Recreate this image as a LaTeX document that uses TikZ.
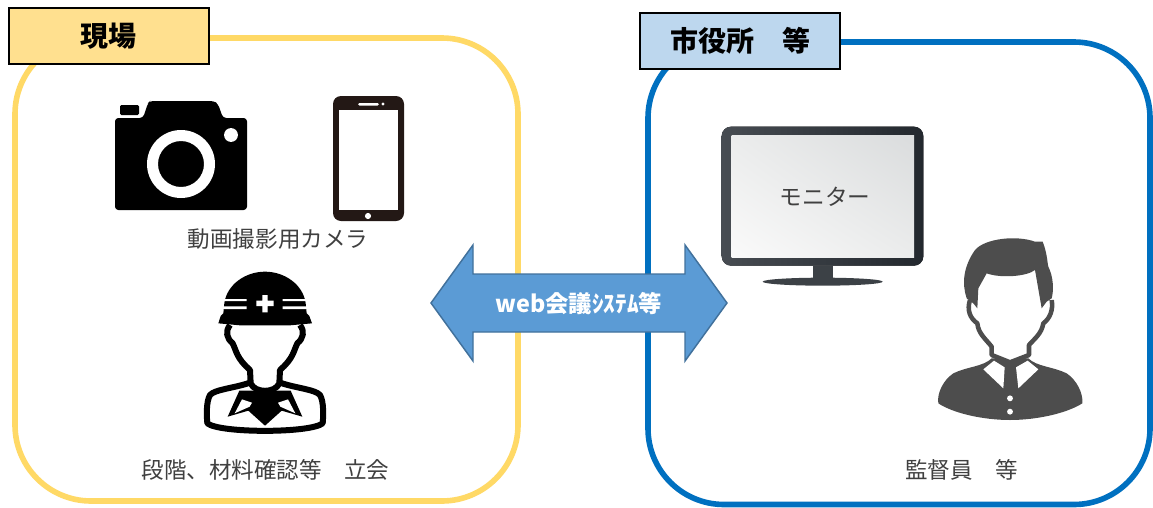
\documentclass[tikz,border=0pt]{standalone}
\usepackage{fontspec}
\usetikzlibrary{shadings}
\setmainfont{Noto Sans CJK JP}
\definecolor{yel}{HTML}{FFD966}
\definecolor{yelfill}{HTML}{FFE08F}
\definecolor{blu}{HTML}{0070C0}
\definecolor{blufill}{HTML}{BDD7EE}
\definecolor{arrfill}{HTML}{5B9BD5}
\definecolor{arrline}{HTML}{41719C}
\definecolor{txt}{HTML}{404040}
\definecolor{phone}{HTML}{231815}
\definecolor{person}{HTML}{4D4D4D}
\definecolor{mona}{HTML}{474C52}
\definecolor{monb}{HTML}{23282E}
\definecolor{scra}{HTML}{FAFAFA}
\definecolor{scrb}{HTML}{DADCDD}
\definecolor{scrc}{HTML}{EBECEC}
\tikzset{
  frame/.style={line width=4.2pt,rounded corners=57pt},
  tagbox/.style={draw=black,line width=1.5pt,inner sep=0pt,minimum width=150pt,minimum height=41.5pt,font=\fontsize{21}{24}\selectfont\bfseries,text=black},
  caption/.style={inner sep=0pt,text=txt,font=\fontsize{16.9}{20}\selectfont},
  zoomed/.style={x=0.25pt,y=-0.25pt},
}
\begin{document}
\begin{tikzpicture}[x=0.75pt,y=-0.75pt]
\useasboundingbox (0,0) rectangle (1153,507);
\fill[white] (0,0) rectangle (1153,507);
% frames
\draw[frame,draw=yel] (15,38) rectangle (518,501);
\draw[frame,draw=blu] (648,42) rectangle (1150,504.5);
% double arrow
\draw[fill=arrfill,draw=arrline,line width=1.1pt,line join=miter]
  (431,303) -- (473,245) -- (473,274) -- (685,274) -- (685,245) -- (727,303)
  -- (685,361) -- (685,332) -- (473,332) -- (473,361) -- cycle;
\node[inner sep=0pt,text=white,font=\fontsize{17.5}{20}\selectfont\bfseries] (sys) at (579,304) {web会議ｼｽﾃﾑ等};
% tags
\node[tagbox,fill=yelfill] (site) at (108.5,36) {現場};
\node[tagbox,fill=blufill] (office) at (740,41) {市役所　等};
% camera
\fill[black,rounded corners=2.5pt] (115,118) -- (143,118) -- (148,103) -- (150,101) -- (214,101) -- (218,104) -- (223,118) -- (247,118) -- (247,210) -- (115,210) -- cycle;
\fill[black,rounded corners=1pt] (120,105) rectangle (139,115);
\fill[white,even odd rule] (181,164) circle[radius=25.5pt] (181,164) circle[radius=17.25pt];
\fill[white] (231,135) circle[radius=5.2pt];
% phone
\fill[phone,rounded corners=6pt] (333,96) rectangle (404,221);
\fill[white] (339,110) rectangle (398,210);
\fill[white,rounded corners=1pt] (358,103) rectangle (379,105.5);
\fill[white] (383,104) circle[radius=1.2pt];
\fill[white] (368,216) circle[radius=2.3pt];
\node[caption] (camcap) at (278,239) {動画撮影用カメラ};
% worker
\begin{scope}[shift={(180,260)},zoomed]
  \draw[black,fill=white,line width=4.5pt,line join=round]
    (210,368) .. controls (160,385) and (105,388) .. (90,405)
    .. controls (78,425) and (80,470) .. (82,490)
    .. controls (120,520) and (390,520) .. (428,490)
    .. controls (430,470) and (432,425) .. (420,405)
    .. controls (405,388) and (350,385) .. (300,368) -- cycle;
  \fill[black] (178,392) -- (143,470) -- (205,452) -- (255,497) -- (305,452) -- (367,470) -- (332,392) -- cycle;
  \fill[white] (186,418) -- (164,460) -- (209,440) -- (216,428) -- cycle;
  \fill[white] (324,418) -- (346,460) -- (301,440) -- (294,428) -- cycle;
  \draw[black,fill=white,line width=4.5pt,line join=round]
    (150,195) .. controls (135,215) and (140,235) .. (158,250)
    .. controls (170,275) and (170,295) .. (210,330)
    -- (212,370) .. controls (225,400) and (285,400) .. (298,370) -- (300,330)
    .. controls (340,295) and (340,275) .. (352,250)
    .. controls (370,235) and (375,215) .. (360,195);
  \fill[black] (115,190) -- (122,168) -- (130,160) -- (133,130)
    .. controls (140,75) and (195,35) .. (255,35)
    .. controls (315,35) and (370,75) .. (377,130)
    -- (380,160) -- (388,168) -- (396,190) -- (330,196) -- (180,196) -- cycle;
  \fill[white] (127,117) rectangle (200,123) (127,139) rectangle (200,147)
               (308,117) rectangle (382,123) (308,139) rectangle (382,147);
  \fill[white] (247,105) rectangle (263,157) (229,122) rectangle (281,138);
\end{scope}
\node[caption] (sitecap) at (265.5,470) {段階、材料確認等　立会};
% monitor
\begin{scope}[shift={(710,115)},zoomed]
  \fill[left color=mona,right color=monb,rounded corners=7pt] (35,35) rectangle (640,452);
  \fill[lower left=scra,upper right=scrb,lower right=scrc,upper left=scrc] (65,62) rectangle (612,427);
  \fill[mona!85!black] (308,452) rectangle (368,490);
  \fill[mona!85!black] (338,500) ellipse[x radius=180,y radius=12];
\end{scope}
\node[inner sep=0pt,text=txt,font=\fontsize{17}{20}\selectfont] (moncap) at (825,197) {モニター};
% supervisor
\begin{scope}[shift={(920,230)},zoomed]
  \fill[person] (215,385) .. controls (190,410) and (140,410) .. (100,430)
    .. controls (70,450) and (50,490) .. (55,520)
    .. controls (100,550) and (190,570) .. (270,570)
    .. controls (350,570) and (440,550) .. (487,520)
    .. controls (490,490) and (470,450) .. (440,430)
    .. controls (400,410) and (350,410) .. (325,385) -- cycle;
  \fill[white] (190,418) -- (222,392) -- (254,412) -- (250,475) -- cycle;
  \fill[white] (355,418) -- (323,392) -- (288,412) -- (295,475) -- cycle;
  \draw[person,fill=white,line width=3.4pt,line join=round]
    (150,210) .. controls (140,240) and (150,265) .. (172,280)
    .. controls (175,310) and (195,325) .. (215,350)
    -- (215,375) -- (270,397) -- (327,375) -- (327,345)
    .. controls (345,325) and (365,310) .. (370,280)
    .. controls (390,265) and (400,240) .. (395,210);
  \fill[person] (172,235) -- (160,220) -- (140,205)
    .. controls (125,160) and (130,110) .. (165,60)
    .. controls (195,25) and (290,15) .. (345,35) -- (368,35)
    .. controls (382,70) and (382,100) .. (385,110)
    .. controls (400,140) and (402,180) .. (395,205) -- (380,215) -- (365,235)
    -- (345,120) .. controls (320,140) and (240,145) .. (200,130)
    -- (175,175) -- cycle;
  \fill[white] (270,505) circle[radius=2.2pt] (270,545) circle[radius=2.2pt];
\end{scope}
\node[caption] (supcap) at (961.5,470) {監督員　等};
\end{tikzpicture}
\end{document}
